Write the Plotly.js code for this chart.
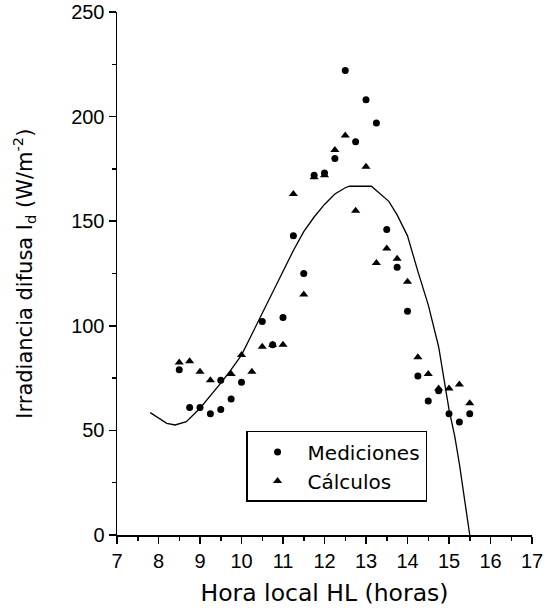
<!DOCTYPE html>
<html>
<head>
<meta charset="utf-8">
<script src="https://cdn.plot.ly/plotly-3.0.1.min.js"></script>
<style>html,body{margin:0;padding:0;background:#fff;}#chart{width:554px;height:615px;}</style>
</head>
<body>
<div id="chart"></div>
<script>
// Mediciones (measured)
const medX = [8.5, 8.75, 9.0, 9.25, 9.5, 9.5, 9.75, 10.0, 10.5, 10.75, 11.0, 11.25, 11.5, 11.75, 12.0, 12.25, 12.5, 12.75, 13.0, 13.25, 13.5, 13.75, 14.0, 14.25, 14.5, 14.75, 15.0, 15.25, 15.5];
const medY = [79, 61, 61, 58, 60, 74, 65, 73, 102, 91, 104, 143, 125, 172, 173, 180, 222, 188, 208, 197, 146, 128, 107, 76, 64, 69, 58, 54, 58];
// Cálculos (calculated)
const calX = [8.5, 8.75, 9.0, 9.25, 9.75, 10.0, 10.25, 10.5, 10.75, 11.0, 11.25, 11.5, 11.75, 12.0, 12.25, 12.5, 12.75, 13.0, 13.25, 13.5, 13.75, 14.0, 14.25, 14.5, 14.75, 15.0, 15.25, 15.5];
const calY = [82.5, 83, 78, 74, 77, 86, 78, 90, 91, 91, 163, 115, 171, 172, 184, 191, 155, 176, 130, 137, 132, 121, 85, 77, 70, 70, 72, 63];
// Model curve
const curveX = [7.8, 8.03, 8.2, 8.4, 8.67, 9.0, 9.25, 9.5, 9.75, 10.0, 10.25, 10.5, 10.75, 11.0, 11.25, 11.5, 11.75, 12.0, 12.25, 12.5, 12.6, 13.13, 13.35, 13.55, 13.75, 14.0, 14.25, 14.5, 14.75, 15.0, 15.14, 15.25, 15.5];
const curveY = [58.5, 55.4, 53.4, 52.6, 54.2, 60.6, 66.5, 72.6, 79, 86, 96, 106, 116, 126, 136, 145, 152, 158, 163, 166, 166.7, 166.7, 163, 159.5, 153, 143, 126, 110, 90, 60, 47, 34, 0];
const xTicks = [7, 8, 9, 10, 11, 12, 13, 14, 15, 16, 17];
const yTicks = [0, 50, 100, 150, 200, 250];

const fontFam = '"Liberation Sans", Arial, sans-serif';
const titleFam = '"DejaVu Sans", sans-serif';
const traces = [
  {x: curveX, y: curveY, mode: 'lines', line: {color: '#000', width: 1.3}, showlegend: false, hoverinfo: 'skip'},
  {x: medX, y: medY, mode: 'markers', name: 'Mediciones', marker: {symbol: 'circle', size: 7, color: '#000'}},
  {x: calX, y: calY, mode: 'markers', name: 'Cálculos', marker: {symbol: 'triangle-up', size: 8, color: '#000'}}
];
const layout = {
  width: 554, height: 615,
  margin: {l: 117, r: 22, t: 12, b: 80},
  paper_bgcolor: '#fff', plot_bgcolor: '#fff',
  font: {family: fontFam, size: 19, color: '#000'},
  showlegend: true,
  legend: {x: 0.311, y: 0.199, xanchor: 'left', yanchor: 'top', bgcolor: '#fff', bordercolor: '#000', borderwidth: 1.5,
           font: {family: titleFam, size: 20, color: '#000'}, itemwidth: 50, tracegroupgap: 0},
  xaxis: {range: [7, 17], tickvals: xTicks, ticktext: xTicks.map(String), showgrid: false, zeroline: false,
          showline: true, linecolor: '#000', linewidth: 1.5, ticks: 'outside', ticklen: 7, tickwidth: 1.5, tickcolor: '#000',
          minor: {dtick: 0.5, ticks: 'outside', ticklen: 4, tickwidth: 1.5, tickcolor: '#000', showgrid: false},
          tickfont: {family: fontFam, size: 20},
          title: {text: 'Hora local HL (horas)', font: {family: titleFam, size: 23.5}, standoff: 14}},
  yaxis: {range: [0, 250], tickvals: yTicks, ticktext: yTicks.map(String), showgrid: false, zeroline: false,
          showline: true, linecolor: '#000', linewidth: 1.5, ticks: 'outside', ticklen: 7, tickwidth: 1.5, tickcolor: '#000',
          minor: {dtick: 25, ticks: 'outside', ticklen: 4, tickwidth: 1.5, tickcolor: '#000', showgrid: false},
          tickfont: {family: fontFam, size: 20}},
  annotations: [{text: 'Irradiancia difusa I<sub>d</sub> (W/m<sup>-2</sup>)', xref: 'paper', yref: 'paper',
                 x: -0.226, y: 0.5, xanchor: 'center', yanchor: 'middle', textangle: -90, showarrow: false,
                 font: {family: titleFam, size: 21, color: '#000'}}]
};
Plotly.newPlot('chart', traces, layout, {displayModeBar: false, staticPlot: true});
</script>
</body>
</html>
